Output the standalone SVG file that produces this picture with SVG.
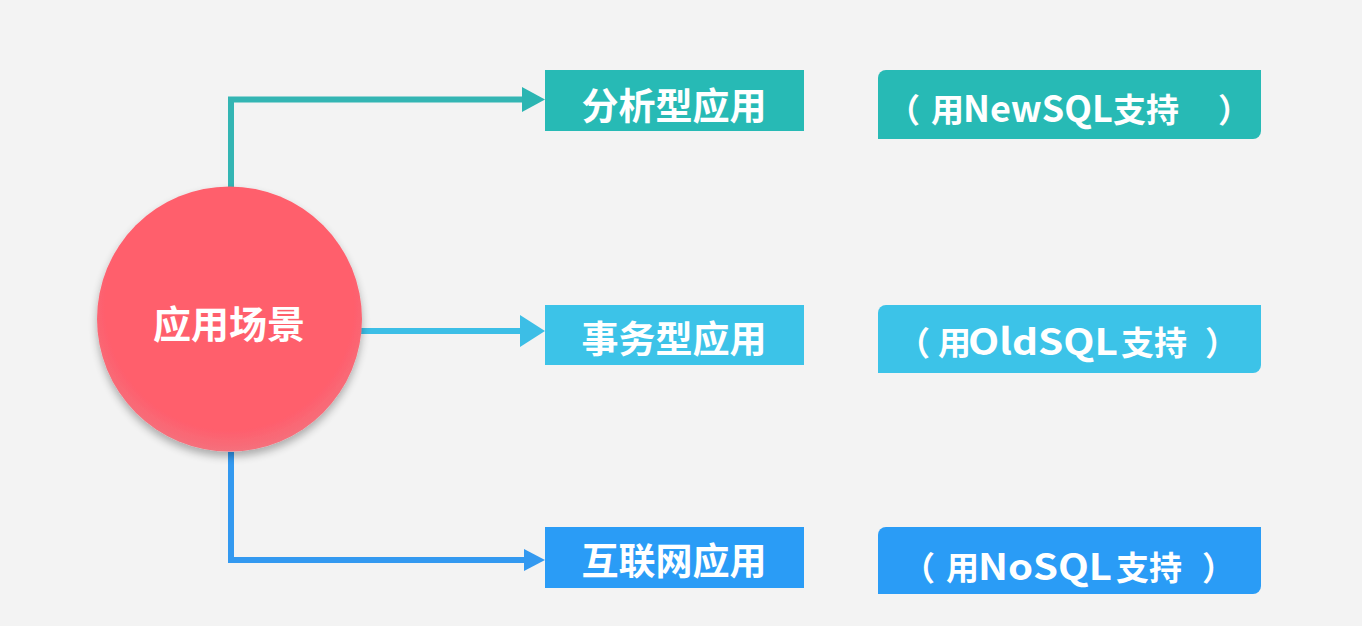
<svg xmlns="http://www.w3.org/2000/svg" width="1362" height="626" viewBox="0 0 1362 626">
<style>
.t{font-family:"Noto Sans CJK SC","Noto Sans",sans-serif;font-weight:bold;fill:#ffffff}
.m{text-anchor:middle}
.lbl{font-size:37px}
.bdg{font-size:33px}
.la{font-size:36px}
.ln{fill:none;stroke-width:6}
</style>
<defs>
<radialGradient id="rg" cx="0.5" cy="0.45" r="0.55">
<stop offset="0" stop-color="#FF5E6C"/>
<stop offset="0.85" stop-color="#FF5E6C"/>
<stop offset="1" stop-color="#F5707C"/>
</radialGradient>
<filter id="sh" x="-20%" y="-20%" width="140%" height="150%">
<feGaussianBlur in="SourceAlpha" stdDeviation="4"/>
<feOffset dy="5"/>
<feComponentTransfer><feFuncA type="linear" slope="0.3"/></feComponentTransfer>
<feMerge><feMergeNode/><feMergeNode in="SourceGraphic"/></feMerge>
</filter>
</defs>
<rect width="1362" height="626" fill="#F3F3F3"/>
<g id="connectors">
<path class="ln" stroke="#33B5B3" d="M231 190 V99.5 H522"/>
<polygon fill="#2BB5B2" points="522,87 545,99.5 522,112"/>
<path class="ln" stroke="#3CBEE6" d="M360 331 H521"/>
<polygon fill="#3CBEE6" points="520,315 545,331 520,347"/>
<path class="ln" stroke="#3399F0" d="M231 452 V560 H524"/>
<polygon fill="#3399F0" points="524,549 545,560 524,571"/>
</g>
<g id="center">
<circle cx="229.5" cy="319" r="132.5" fill="url(#rg)" filter="url(#sh)"/>
<text class="t m" x="229" y="338" font-size="38">应用场景</text>
</g>
<g id="n1">
<rect x="545" y="70" width="259" height="61" fill="#27BAB5"/>
<text class="t m lbl" x="674" y="120">分析型应用</text>
</g>
<g id="b1">
<path d="M886 70 H1261 V131 a8 8 0 0 1 -8 8 H878 V78 a8 8 0 0 1 8 -8 Z" fill="#27BAB5"/>
<text class="t bdg" y="122"><tspan x="887">（</tspan><tspan x="931">用</tspan><tspan class="la" x="963">NewSQL</tspan><tspan x="1113">支持</tspan><tspan x="1218">）</tspan></text>
</g>
<g id="n2">
<rect x="545" y="305" width="259" height="60" fill="#3CC3E8"/>
<text class="t m lbl" x="674" y="353">事务型应用</text>
</g>
<g id="b2">
<path d="M886 305 H1261 V365 a8 8 0 0 1 -8 8 H878 V313 a8 8 0 0 1 8 -8 Z" fill="#3CC3E8"/>
<text class="t bdg" y="355"><tspan x="897">（</tspan><tspan x="938">用</tspan><tspan class="la" x="968" textLength="150" lengthAdjust="spacingAndGlyphs">OldSQL</tspan><tspan x="1121">支持</tspan><tspan x="1205">）</tspan></text>
</g>
<g id="n3">
<rect x="545" y="527" width="259" height="61" fill="#2A9CF6"/>
<text class="t m lbl" x="674" y="575">互联网应用</text>
</g>
<g id="b3">
<path d="M886 527 H1261 V586 a8 8 0 0 1 -8 8 H878 V535 a8 8 0 0 1 8 -8 Z" fill="#2A9CF6"/>
<text class="t bdg" y="580"><tspan x="902">（</tspan><tspan x="946">用</tspan><tspan class="la" x="978" textLength="134" lengthAdjust="spacingAndGlyphs">NoSQL</tspan><tspan x="1116">支持</tspan><tspan x="1202">）</tspan></text>
</g>
</svg>
